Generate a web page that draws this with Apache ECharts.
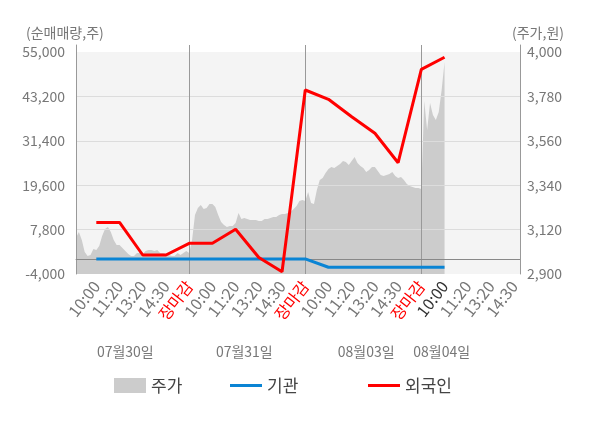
<!DOCTYPE html>
<html style="height: 100%">

<head>
    <meta charset="utf-8" />
    <title>순매매량</title>
    <script src="https://cdn.jsdelivr.net/npm/echarts/dist/echarts.min.js"></script>
</head>

<body style="height: 100%; margin: 0; overflow: hidden; background: #fff">
    <div id="container" style="width: 600px; height: 428px"></div>
    <script>
        // 일자 / 시각 라벨
        var days = ["07월30일", "07월31일", "08월03일", "08월04일"];
        var timeLabels = ["10:00", "11:20", "13:20", "14:30", "장마감"];

        // 주가 (원) - 일자별 분 단위 흐름
        var priceDay1 = [3080, 3108, 3068, 3009, 2989, 2994, 3024, 3019, 3039, 3088,
            3123, 3133, 3108, 3068, 3044, 3044, 3029, 3014, 2999, 2989,
            2989, 3004, 3004, 2999, 3014, 3019, 3019, 3014, 3019, 3004,
            3004, 2999, 2994, 2989, 2989, 3004, 2994, 3004, 3014, 3004];
        var priceDay2 = [3068, 3192, 3227, 3242, 3222, 3227, 3247, 3247, 3232, 3192,
            3158, 3143, 3133, 3138, 3138, 3153, 3202, 3173, 3177, 3173,
            3168, 3168, 3168, 3163, 3163, 3173, 3173, 3177, 3182, 3182,
            3192, 3197, 3197, 3202, 3207, 3222, 3237, 3262, 3267, 3262];
        var priceDay3 = [3306, 3252, 3247, 3316, 3366, 3376, 3400, 3420, 3430, 3425,
            3435, 3445, 3460, 3455, 3440, 3460, 3480, 3450, 3435, 3425,
            3405, 3415, 3430, 3430, 3410, 3391, 3386, 3391, 3396, 3405,
            3386, 3376, 3381, 3366, 3346, 3336, 3331, 3326, 3326, 3321];
        var priceDay4 = [3757, 3613, 3747, 3688, 3663, 3703, 3812, 3950];

        // 순매매량 (주) - 시각 라벨마다 한 점
        var instNet = [0, 0, 0, 0, 0, 0, 0, 0, 0, 0, -2200, -2200, -2200, -2200, -2200, -2200];
        var foreignNet = [9700, 9700, 1050, 1050, 4160, 4160, 7880, 400, -3390, 44900,
            42430, 37800, 33400, 25580, 50400, 53600];

        var PER_DAY = 40, STEP = 8, FIRST = 7, TOTAL = 154;
        var FONT = "Noto Sans CJK KR";

        var prices = priceDay1.concat(priceDay2, priceDay3, priceDay4);
        var priceData = [], instData = [], foreignData = [], cats = [], dayCats = [];
        for (var i = 0; i < TOTAL; i++) {
            priceData.push(i < prices.length ? prices[i] : null);
            instData.push(null);
            foreignData.push(null);
            cats.push("");
            dayCats.push("");
        }
        for (var k = 0; FIRST + k * STEP < TOTAL; k++) {
            cats[FIRST + k * STEP] = timeLabels[k % 5];
        }
        for (var k = 0; k < foreignNet.length; k++) {
            foreignData[FIRST + k * STEP] = foreignNet[k];
            instData[FIRST + k * STEP] = instNet[k];
        }
        var dayLabelIdx = [17, 58, 100, 126];
        days.forEach(function (d, n) { dayCats[dayLabelIdx[n]] = d; });
        var boundaries = [39, 79, 119];

        var fmt = function (v) { return v.toLocaleString("en-US"); };
        var legendText = { fontSize: 17, color: "#444", fontFamily: FONT };

        var dom = document.getElementById("container");
        var myChart = echarts.init(dom, null, { renderer: "canvas" });
        var option = {
            animation: false,
            title: [
                { text: "(순매매량,주)", left: 21, top: 21, textStyle: { fontSize: 14, fontWeight: "normal", color: "#777", fontFamily: FONT } },
                { text: "(주가,원)", left: 507, top: 21, textStyle: { fontSize: 14, fontWeight: "normal", color: "#777", fontFamily: FONT } }
            ],
            legend: [
                { data: [{ name: "주가", icon: "rect" }], left: 109, top: 372, itemWidth: 32, itemHeight: 15, textStyle: legendText },
                { data: [{ name: "기관", icon: "rect" }], left: 225, top: 372, itemWidth: 32, itemHeight: 3, textStyle: legendText },
                { data: [{ name: "외국인", icon: "rect" }], left: 363, top: 372, itemWidth: 32, itemHeight: 3, textStyle: legendText }
            ],
            grid: [
                { left: 76, right: 80, top: 52, bottom: 154, show: true, backgroundColor: "#f4f4f4", borderWidth: 0 },
                { left: 76, right: 80, top: 45, bottom: 154 }
            ],
            xAxis: [
                {
                    type: "category", gridIndex: 0, data: cats, boundaryGap: false,
                    axisLine: { lineStyle: { color: "#999" } },
                    axisTick: {
                        length: 5, lineStyle: { color: "#999" },
                        interval: function (i) { return i === 0 || boundaries.indexOf(i) >= 0; }
                    },
                    axisLabel: {
                        interval: function (i, v) { return v !== ""; },
                        rotate: 52, margin: 9, fontSize: 16, fontFamily: FONT, color: "#777",
                        formatter: function (v, i) {
                            if (v === "장마감") return "{red|" + v + "}";
                            if (i === FIRST + 15 * STEP) return "{cur|" + v + "}";
                            return "{t|" + v + "}";
                        },
                        rich: {
                            t: { color: "#777", fontSize: 16, fontFamily: FONT },
                            red: { color: "#ff0000", fontSize: 16, fontFamily: FONT },
                            cur: { color: "#333", fontSize: 16, fontFamily: FONT }
                        }
                    },
                    splitLine: { show: false }
                },
                {
                    type: "category", gridIndex: 0, data: dayCats, boundaryGap: false,
                    position: "bottom", offset: 63,
                    axisLine: { show: false }, axisTick: { show: false },
                    axisLabel: {
                        interval: function (i, v) { return v !== ""; },
                        margin: 8, fontSize: 14, color: "#777", fontFamily: FONT
                    }
                },
                {
                    type: "category", gridIndex: 1, data: cats, boundaryGap: false, z: 3,
                    axisLine: { show: false }, axisTick: { show: false }, axisLabel: { show: false },
                    splitLine: {
                        show: true, lineStyle: { color: "#999", width: 1 },
                        interval: function (i) { return boundaries.indexOf(i) >= 0; }
                    }
                }
            ],
            yAxis: [
                {
                    type: "value", gridIndex: 0, position: "left", z: 3,
                    min: -4000, max: 55000, interval: 11800,
                    axisLine: { show: false }, axisTick: { show: false },
                    axisLabel: { formatter: fmt, fontSize: 14, color: "#777", fontFamily: FONT, margin: 11 },
                    splitLine: { show: true, showMaxLine: false, showMinLine: false, lineStyle: { color: "#dcdcdc" } }
                },
                {
                    type: "value", gridIndex: 0, position: "right",
                    min: 2900, max: 4000, interval: 220,
                    axisLine: { show: false }, axisTick: { show: false },
                    axisLabel: { formatter: fmt, fontSize: 14, color: "#777", fontFamily: FONT, margin: 7 },
                    splitLine: { show: false }
                },
                {
                    type: "value", gridIndex: 1, position: "left", min: 0, max: 1, z: 3,
                    axisLine: { show: true, lineStyle: { color: "#999" } },
                    axisTick: { show: false }, axisLabel: { show: false }, splitLine: { show: false }
                },
                {
                    type: "value", gridIndex: 1, position: "right", min: 0, max: 1, z: 3,
                    axisLine: { show: true, lineStyle: { color: "#999" } },
                    axisTick: { show: false }, axisLabel: { show: false }, splitLine: { show: false }
                }
            ],
            series: [
                {
                    name: "주가", type: "line", xAxisIndex: 0, yAxisIndex: 1, data: priceData,
                    symbol: "none", z: 2,
                    itemStyle: { color: "#cccccc" },
                    lineStyle: { width: 0, color: "#cccccc" },
                    areaStyle: { color: "#cccccc", opacity: 1, origin: "start" }
                },
                {
                    name: "기관", type: "line", xAxisIndex: 0, yAxisIndex: 0, data: instData,
                    connectNulls: true, symbol: "none", z: 5,
                    itemStyle: { color: "#0a84d4" },
                    lineStyle: { color: "#0a84d4", width: 3 },
                    markLine: {
                        silent: true, symbol: "none", label: { show: false },
                        lineStyle: { color: "#888", width: 1, type: "solid" },
                        data: [{ yAxis: 0 }]
                    }
                },
                {
                    name: "외국인", type: "line", xAxisIndex: 0, yAxisIndex: 0, data: foreignData,
                    connectNulls: true, symbol: "none", z: 6,
                    itemStyle: { color: "#ff0000" },
                    lineStyle: { color: "#ff0000", width: 3 }
                }
            ]
        };
        myChart.setOption(option);
    </script>
</body>

</html>
